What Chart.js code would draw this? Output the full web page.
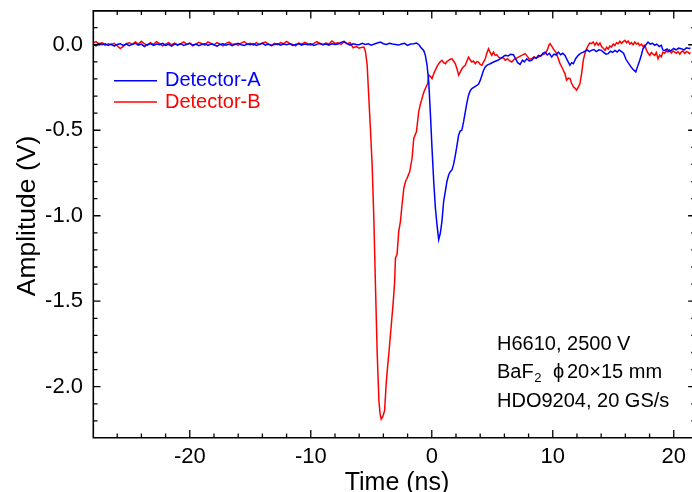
<!DOCTYPE html>
<html><head><meta charset="utf-8">
<script src="https://cdn.jsdelivr.net/npm/chart.js@4.4.1/dist/chart.umd.min.js"></script>
<style>html,body{margin:0;padding:0;background:#fff;overflow:hidden}</style>
</head><body>
<canvas id="c" width="692" height="492" style="display:block;width:692px;height:492px"></canvas>
<script>
const FONT = "'Liberation Sans', Arial, Helvetica, sans-serif";
const xRange = [-28, 21.4];
const yRange = [-2.3, 0.2];
const xMajorTicks = [-20, -10, 0, 10, 20];
const xMinorTicks = [-26, -24, -22, -18, -16, -14, -12, -8, -6, -4, -2, 2, 4, 6, 8, 12, 14, 16, 18];
const yMajorTicks = [0, -0.5, -1.0, -1.5, -2.0];
const yMinorTicks = [0.1, -0.1, -0.2, -0.3, -0.4, -0.6, -0.7, -0.8, -0.9, -1.1, -1.2, -1.3, -1.4, -1.6, -1.7, -1.8, -1.9, -2.1, -2.2];
const xTitle = 'Time (ns)';
const yTitle = 'Amplitude (V)';
const seriesNames = ['Detector-A', 'Detector-B'];
const seriesColors = ['#0000FF', '#FF0000'];
const noteLines = ['H6610, 2500 V', 'BaF|2|\u03D5|20\u00D715 mm', 'HDO9204, 20 GS/s'];

// Detector-A (blue) [time ns, amplitude V]
const detectorA = [
[-28.00,0.004],[-27.75,-0.006],[-27.50,0.008],[-27.25,0.000],[-27.00,0.006],[-26.75,-0.004],[-26.50,0.004],[-26.25,-0.008],
[-26.00,0.002],[-25.75,0.006],[-25.50,-0.004],[-25.25,0.004],[-25.00,-0.006],[-24.75,0.002],[-24.50,0.008],[-24.25,-0.002],
[-24.00,0.004],[-23.75,-0.010],[-23.50,0.002],[-23.25,0.006],[-23.00,-0.004],[-22.75,0.004],[-22.50,0.000],[-22.25,0.008],
[-22.00,-0.004],[-21.75,0.002],[-21.50,-0.008],[-21.25,0.004],[-21.00,0.000],[-20.75,0.006],[-20.50,-0.004],[-20.25,0.002],
[-20.00,0.008],[-19.75,-0.002],[-19.50,0.004],[-19.25,-0.006],[-19.00,0.002],[-18.75,0.006],[-18.50,-0.004],[-18.25,0.004],
[-18.00,0.000],[-17.75,-0.008],[-17.50,0.002],[-17.25,0.006],[-17.00,-0.002],[-16.75,0.004],[-16.50,-0.006],[-16.25,0.002],
[-16.00,0.008],[-15.75,0.000],[-15.50,-0.004],[-15.25,0.004],[-15.00,0.000],[-14.75,0.006],[-14.50,-0.004],[-14.25,0.002],
[-14.00,0.008],[-13.75,-0.002],[-13.50,0.004],[-13.25,-0.006],[-13.00,0.002],[-12.75,0.006],[-12.50,-0.002],[-12.25,0.004],
[-12.00,0.000],[-11.75,0.006],[-11.50,-0.004],[-11.25,0.002],[-11.00,0.006],[-10.75,-0.002],[-10.50,0.004],[-10.25,0.000],
[-10.00,0.006],[-9.75,-0.004],[-9.50,0.002],[-9.25,0.008],[-9.00,0.000],[-8.75,0.004],[-8.50,-0.002],[-8.25,0.006],
[-8.00,0.002],[-7.75,0.004],[-7.50,0.014],[-7.25,0.020],[-7.00,0.006],[-6.75,-0.002],[-6.50,0.006],[-6.25,0.002],
[-6.00,0.000],[-5.75,0.008],[-5.50,0.002],[-5.25,0.006],[-5.00,-0.002],[-4.75,0.004],[-4.50,0.010],[-4.25,0.016],
[-4.00,0.006],[-3.75,0.002],[-3.50,0.008],[-3.25,0.004],[-3.00,0.002],[-2.75,-0.002],[-2.50,0.004],[-2.25,0.008],
[-2.00,-0.004],[-1.75,0.004],[-1.50,0.006],[-1.25,0.010],[-1.00,-0.004],
[-0.94,-0.013],[-0.67,-0.033],[-0.53,-0.062],[-0.39,-0.120],[-0.25,-0.217],[-0.11,-0.410],[0.02,-0.606],[0.16,-0.800],
[0.30,-0.956],[0.43,-1.052],[0.57,-1.140],[0.71,-1.101],[0.84,-1.033],[0.98,-0.917],[1.12,-0.858],[1.25,-0.800],
[1.40,-0.760],[1.53,-0.742],[1.67,-0.732],[1.80,-0.700],[1.95,-0.645],[2.08,-0.590],[2.22,-0.528],[2.35,-0.505],
[2.49,-0.499],[2.63,-0.450],[2.77,-0.392],[2.90,-0.340],[3.04,-0.295],[3.17,-0.270],[3.31,-0.256],[3.50,-0.248],
[3.73,-0.237],[3.87,-0.230],[4.01,-0.207],[4.14,-0.180],[4.28,-0.149],[4.42,-0.130],[4.55,-0.120],[4.70,-0.115],
[4.83,-0.111],[5.10,-0.101],[5.30,-0.095],[5.46,-0.091],[5.70,-0.080],[5.90,-0.070],[6.07,-0.062],[6.30,-0.066],
[6.50,-0.056],[6.75,-0.058],[6.95,-0.085],[7.10,-0.105],[7.30,-0.115],[7.50,-0.090],[7.65,-0.100],[7.85,-0.082],
[8.05,-0.095],[8.26,-0.091],[8.45,-0.075],[8.62,-0.080],[8.81,-0.062],[9.00,-0.068],[9.18,-0.050],[9.36,-0.043],
[9.55,-0.060],[9.72,-0.050],[9.91,-0.072],[10.10,-0.055],[10.28,-0.060],[10.46,-0.043],[10.65,-0.058],[10.83,-0.050],
[11.01,-0.062],[11.20,-0.090],[11.42,-0.120],[11.56,-0.105],[11.70,-0.111],[11.90,-0.080],[12.11,-0.062],[12.30,-0.050],
[12.48,-0.045],[12.66,-0.038],[12.85,-0.030],[13.02,-0.040],[13.20,-0.033],[13.40,-0.028],[13.60,-0.040],[13.82,-0.030],
[14.03,-0.033],[14.20,-0.045],[14.40,-0.055],[14.58,-0.052],[14.77,-0.038],[14.95,-0.045],[15.13,-0.033],[15.32,-0.042],
[15.50,-0.030],[15.68,-0.040],[15.85,-0.050],[16.05,-0.085],[16.23,-0.105],[16.45,-0.128],[16.64,-0.145],[16.86,-0.159],
[17.02,-0.125],[17.19,-0.091],[17.32,-0.060],[17.46,-0.023],[17.65,-0.005],[17.87,0.016],[18.05,0.004],[18.25,0.008],
[18.43,-0.003],[18.60,0.004],[18.80,-0.010],[18.97,-0.003],[19.10,-0.030],[19.25,-0.033],[19.45,-0.025],[19.62,-0.038],
[19.80,-0.033],[20.00,-0.022],[20.20,-0.030],[20.40,-0.020],[20.62,-0.023],[20.85,-0.030],[21.05,-0.018],[21.25,-0.022],
[21.40,-0.019]
];

// Detector-B (red) [time ns, amplitude V]
const detectorB = [
[-28.00,0.010],[-27.75,0.018],[-27.50,0.004],[-27.25,0.012],[-27.00,-0.004],[-26.75,0.006],[-26.50,0.000],[-26.25,0.008],
[-26.00,-0.006],[-25.75,-0.022],[-25.50,-0.010],[-25.25,0.006],[-25.00,0.012],[-24.75,0.002],[-24.50,0.016],[-24.25,0.004],
[-24.00,0.020],[-23.75,0.006],[-23.50,-0.004],[-23.25,0.012],[-23.00,0.002],[-22.75,0.018],[-22.50,0.006],[-22.25,-0.006],
[-22.00,0.004],[-21.75,0.012],[-21.50,0.000],[-21.25,0.010],[-21.00,-0.004],[-20.75,0.006],[-20.50,0.016],[-20.25,0.002],
[-20.00,0.010],[-19.75,-0.006],[-19.50,0.004],[-19.25,0.014],[-19.00,0.006],[-18.75,-0.002],[-18.50,0.016],[-18.25,0.008],
[-18.00,0.000],[-17.75,0.012],[-17.50,0.004],[-17.25,-0.006],[-17.00,0.008],[-16.75,0.016],[-16.50,0.002],[-16.25,0.006],
[-16.00,-0.004],[-15.75,0.010],[-15.50,0.018],[-15.25,0.004],[-15.00,0.008],[-14.75,-0.002],[-14.50,0.012],[-14.25,0.002],
[-14.00,0.010],[-13.75,0.016],[-13.50,0.004],[-13.25,-0.004],[-13.00,0.008],[-12.75,0.000],[-12.50,0.012],[-12.25,0.006],
[-12.00,0.020],[-11.75,0.008],[-11.50,0.002],[-11.25,-0.006],[-11.00,0.010],[-10.75,0.004],[-10.50,0.014],[-10.25,0.006],
[-10.00,-0.002],[-9.75,0.008],[-9.50,0.018],[-9.25,0.006],[-9.00,0.000],[-8.75,0.010],[-8.50,0.004],[-8.25,0.022],
[-8.00,0.008],[-7.75,0.012],[-7.50,0.002],[-7.25,0.016],[-7.00,0.006],[-6.75,0.012],[-6.50,-0.018],[-6.25,-0.010],
[-6.00,-0.020],[-5.75,-0.014],
[-5.61,-0.013],[-5.48,-0.040],[-5.34,-0.120],[-5.20,-0.315],[-5.06,-0.509],[-4.93,-0.701],[-4.79,-1.014],[-4.65,-1.422],
[-4.51,-1.808],[-4.37,-2.082],[-4.27,-2.160],[-4.18,-2.189],[-4.05,-2.175],[-3.90,-2.140],[-3.77,-1.983],[-3.66,-1.890],
[-3.55,-1.808],[-3.41,-1.692],[-3.20,-1.517],[-3.08,-1.400],[-3.00,-1.247],[-2.87,-1.226],[-2.73,-1.092],[-2.59,-1.033],
[-2.45,-0.930],[-2.31,-0.839],[-2.17,-0.800],[-2.04,-0.781],[-1.82,-0.742],[-1.63,-0.664],[-1.49,-0.548],[-1.27,-0.509],
[-1.08,-0.392],[-0.95,-0.350],[-0.81,-0.315],[-0.67,-0.280],[-0.53,-0.256],[-0.34,-0.227],[-0.25,-0.178],[-0.12,-0.185],
[0.02,-0.198],[0.16,-0.170],[0.30,-0.147],[0.45,-0.125],[0.57,-0.111],[0.70,-0.100],[0.84,-0.091],[0.98,-0.105],
[1.12,-0.111],[1.25,-0.098],[1.39,-0.091],[1.53,-0.085],[1.67,-0.082],[1.80,-0.095],[1.95,-0.111],[2.08,-0.140],
[2.22,-0.178],[2.35,-0.160],[2.49,-0.140],[2.63,-0.128],[2.77,-0.120],[2.90,-0.095],[3.04,-0.072],[3.17,-0.088],
[3.31,-0.101],[3.45,-0.095],[3.59,-0.111],[3.73,-0.098],[3.87,-0.101],[4.00,-0.115],[4.14,-0.120],[4.28,-0.100],
[4.42,-0.082],[4.55,-0.050],[4.69,-0.023],[4.83,-0.045],[4.96,-0.062],[5.10,-0.043],[5.24,-0.062],[5.37,-0.058],
[5.51,-0.072],[5.70,-0.080],[5.90,-0.075],[6.07,-0.091],[6.25,-0.082],[6.45,-0.095],[6.61,-0.101],[6.80,-0.085],
[7.00,-0.078],[7.16,-0.072],[7.35,-0.065],[7.55,-0.058],[7.71,-0.052],[7.90,-0.068],[8.08,-0.085],[8.26,-0.082],
[8.45,-0.070],[8.62,-0.078],[8.81,-0.072],[9.00,-0.062],[9.18,-0.058],[9.36,-0.052],[9.55,-0.030],[9.70,0.000],
[9.78,0.006],[9.95,-0.013],[10.10,-0.030],[10.25,-0.043],[10.45,-0.080],[10.60,-0.111],[10.75,-0.130],[10.87,-0.149],
[11.01,-0.170],[11.14,-0.207],[11.28,-0.195],[11.42,-0.198],[11.56,-0.225],[11.70,-0.246],[11.85,-0.255],[11.97,-0.266],
[12.10,-0.250],[12.25,-0.227],[12.40,-0.160],[12.52,-0.091],[12.66,-0.050],[12.80,-0.023],[12.93,-0.003],[13.06,0.010],
[13.20,0.006],[13.34,0.016],[13.48,-0.003],[13.62,0.012],[13.76,-0.003],[13.90,0.010],[14.03,-0.010],[14.17,-0.020],
[14.31,-0.033],[14.45,-0.015],[14.58,-0.025],[14.72,-0.008],[14.85,-0.013],[15.00,0.004],[15.13,-0.005],[15.27,0.012],
[15.40,0.006],[15.55,0.020],[15.68,0.008],[15.82,0.018],[15.96,0.026],[16.10,0.012],[16.23,0.022],[16.37,0.004],
[16.50,0.012],[16.64,0.000],[16.78,0.016],[16.91,0.004],[17.05,0.010],[17.19,-0.005],[17.33,0.004],[17.46,-0.010],
[17.60,-0.003],[17.74,-0.030],[17.88,-0.050],[18.02,-0.062],[18.15,-0.045],[18.29,-0.055],[18.43,-0.062],[18.56,-0.045],
[18.70,-0.082],[18.84,-0.060],[18.97,-0.070],[19.11,-0.043],[19.25,-0.050],[19.39,-0.035],[19.52,-0.043],[19.66,-0.030],
[19.80,-0.048],[19.94,-0.036],[20.08,-0.043],[20.22,-0.050],[20.35,-0.040],[20.50,-0.055],[20.62,-0.043],[20.76,-0.035],
[20.90,-0.050],[21.05,-0.040],[21.17,-0.043],[21.30,-0.052],[21.40,-0.045]
];

const decor = {
  id: 'decor',
  afterDraw(chart) {
    const {ctx, chartArea: ca, scales: {x, y}} = chart;
    ctx.save();
    ctx.strokeStyle = '#000';
    ctx.lineCap = 'butt';
    // frame
    ctx.lineWidth = 1.6;
    ctx.beginPath();
    ctx.moveTo(ca.right + 6, ca.top + 0.3); ctx.lineTo(ca.left + 0.3, ca.top + 0.3);
    ctx.lineTo(ca.left + 0.3, ca.bottom - 0.3); ctx.lineTo(ca.right + 6, ca.bottom - 0.3);
    ctx.stroke();
    // inward ticks
    ctx.lineWidth = 1.3;
    const rightAxis = ca.right + 5;
    const tick = (list, len) => {
      ctx.beginPath();
      list.forEach(v => {
        const px = x.getPixelForValue(v);
        ctx.moveTo(px, ca.bottom); ctx.lineTo(px, ca.bottom - len);
        ctx.moveTo(px, ca.top); ctx.lineTo(px, ca.top + len);
      });
      ctx.stroke();
    };
    const ytick = (list, len) => {
      ctx.beginPath();
      list.forEach(v => {
        const py = y.getPixelForValue(v);
        ctx.moveTo(ca.left, py); ctx.lineTo(ca.left + len, py);
        ctx.moveTo(rightAxis, py); ctx.lineTo(rightAxis - len, py);
      });
      ctx.stroke();
    };
    tick(xMajorTicks, 8); tick(xMinorTicks, 4.5);
    ytick(yMajorTicks, 7.5); ytick(yMinorTicks, 4.5);

    // axis titles
    ctx.fillStyle = '#000';
    ctx.font = `25px ${FONT}`;
    ctx.textAlign = 'center';
    ctx.textBaseline = 'alphabetic';
    ctx.fillText(xTitle, 397, 490);
    ctx.save();
    ctx.font = `26.5px ${FONT}`;
    ctx.translate(35, 216);
    ctx.rotate(-Math.PI / 2);
    ctx.fillText(yTitle, 0, 0);
    ctx.restore();

    // legend
    const legendY = [80.7, 102];
    ctx.textAlign = 'left';
    ctx.textBaseline = 'middle';
    ctx.font = `20px ${FONT}`;
    seriesNames.forEach((name, i) => {
      ctx.strokeStyle = seriesColors[i];
      ctx.lineWidth = 1.6;
      ctx.beginPath();
      ctx.moveTo(114, legendY[i]); ctx.lineTo(157, legendY[i]);
      ctx.stroke();
      ctx.fillStyle = seriesColors[i];
      ctx.fillText(name, 165, legendY[i]);
    });

    // notes
    ctx.fillStyle = '#000';
    const noteY = [344, 372.5, 401];
    const nx = 497;
    noteLines.forEach((line, i) => {
      const parts = line.split('|');
      if (parts.length === 1) {
        ctx.font = `20px ${FONT}`;
        ctx.fillText(line, nx, noteY[i]);
      } else {
        ctx.font = `20px ${FONT}`;
        ctx.fillText(parts[0], nx, noteY[i]);
        let cx = nx + ctx.measureText(parts[0]).width + 0.5;
        ctx.font = `13px ${FONT}`;
        ctx.fillText(parts[1], cx, noteY[i] + 6);
        ctx.font = `20px ${FONT}`;
        ctx.fillText(parts[2], 553, noteY[i]);
        ctx.fillText(parts[3], 567, noteY[i]);
      }
    });
    ctx.restore();
  }
};

new Chart(document.getElementById('c'), {
  type: 'line',
  data: {
    datasets: [
      {label: seriesNames[0], data: detectorA.map(([t, a]) => ({x: t, y: a})), borderColor: seriesColors[0], borderWidth: 1.5, pointRadius: 0, tension: 0, fill: false},
      {label: seriesNames[1], data: detectorB.map(([t, a]) => ({x: t, y: a})), borderColor: seriesColors[1], borderWidth: 1.5, pointRadius: 0, tension: 0, fill: false}
    ]
  },
  options: {
    responsive: false,
    animation: false,
    devicePixelRatio: 1,
    layout: {padding: {top: 9, left: 0, right: 0, bottom: 0}},
    plugins: {legend: {display: false}, tooltip: {enabled: false}},
    scales: {
      x: {
        type: 'linear', min: xRange[0], max: xRange[1],
        afterBuildTicks: s => { s.ticks = xMajorTicks.map(v => ({value: v})); },
        afterFit: s => { s.height = 54; },
        grid: {display: false, drawTicks: false},
        border: {display: false},
        ticks: {color: '#000', font: {family: FONT, size: 22}, padding: 6, maxRotation: 0, autoSkip: false, callback: v => String(v)}
      },
      y: {
        type: 'linear', min: yRange[0], max: yRange[1],
        afterBuildTicks: s => { s.ticks = yMajorTicks.map(v => ({value: v})); },
        afterFit: s => { s.width = 93; },
        grid: {display: false, drawTicks: false},
        border: {display: false},
        ticks: {color: '#000', font: {family: FONT, size: 22, lineHeight: 0.05}, padding: 10, autoSkip: false, callback: v => Number(v).toFixed(1)}
      }
    }
  },
  plugins: [decor]
});
</script>
</body></html>
